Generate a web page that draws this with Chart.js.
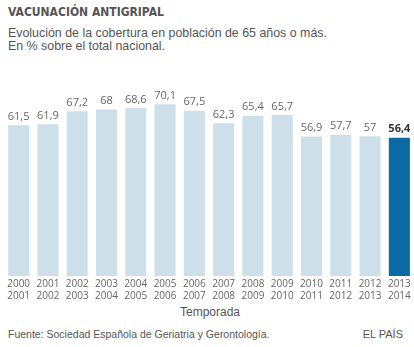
<!DOCTYPE html>
<html>
<head>
<meta charset="utf-8">
<script src="https://cdn.jsdelivr.net/npm/chart.js@4"></script>
<style>
  html, body { margin: 0; padding: 0; background: #fff; }
  body { width: 414px; height: 347px; position: relative; overflow: hidden; color: #555; }
  .title { position: absolute; left: 8px; top: 5px; font: bold 12px "DejaVu Sans Condensed", "DejaVu Sans", Verdana, sans-serif; line-height: 14px; color: #555; }
  .sub { position: absolute; left: 8px; top: 27px; font: 12.4px "Liberation Sans", Arial, sans-serif; line-height: 13px; color: #555; }
  .wrap { position: absolute; left: 0; top: 70px; width: 414px; height: 234px; }
  .axis-title { position: absolute; left: 0; width: 420px; top: 305px; text-align: center; font: 12px "Liberation Sans", Arial, sans-serif; line-height: 14px; color: #555; }
  .source { position: absolute; left: 8px; top: 328px; font: 10.5px "Liberation Sans", Arial, sans-serif; line-height: 12px; color: #555; }
  .brand { position: absolute; right: 11px; top: 328px; font: 11px "Liberation Sans", Arial, sans-serif; line-height: 12px; color: #555; }
</style>
</head>
<body>
<div class="title">VACUNACIÓN ANTIGRIPAL</div>
<div class="sub">Evolución de la cobertura en población de 65 años o más.<br>En % sobre el total nacional.</div>
<div class="wrap"><canvas id="chart"></canvas></div>
<div class="axis-title">Temporada</div>
<div class="source">Fuente: Sociedad Española de Geriatria y Gerontología.</div>
<div class="brand">EL PAÍS</div>
<script>
const seasonStart = ["2000", "2001", "2002", "2003", "2004", "2005", "2006", "2007", "2008", "2009", "2010", "2011", "2012", "2013"];
const seasonEnd = ["2001", "2002", "2003", "2004", "2005", "2006", "2007", "2008", "2009", "2010", "2011", "2012", "2013", "2014"];
const coverage = [61.5, 61.9, 67.2, 68, 68.6, 70.1, 67.5, 62.3, 65.4, 65.7, 56.9, 57.7, 57, 56.4];

const light = "#cde0ea";
const dark = "#0b69a3";
const last = coverage.length - 1;

// value above each bar, comma decimal
const valueLabels = {
  id: "valueLabels",
  afterDatasetsDraw(chart) {
    const ctx = chart.ctx;
    const meta = chart.getDatasetMeta(0);
    ctx.save();
    ctx.textAlign = "center";
    ctx.textBaseline = "bottom";
    meta.data.forEach((bar, i) => {
      const isLast = i === last;
      ctx.font = (isLast ? "bold " : "") + '11px "Open Sans", sans-serif';
      ctx.fillStyle = isLast ? "#333" : "#666";
      ctx.fillText(String(coverage[i]).replace(".", ","), bar.x, bar.y - 3);
    });
    ctx.restore();
  },
};

new Chart(document.getElementById("chart").getContext("2d"), {
  type: "bar",
  data: {
    labels: seasonStart.map((s, i) => [s, seasonEnd[i]]),
    datasets: [{
      data: coverage,
      backgroundColor: coverage.map((v, i) => (i === last ? dark : light)),
      borderWidth: 0,
      barPercentage: 0.72,
      categoryPercentage: 1,
    }],
  },
  options: {
    responsive: true,
    maintainAspectRatio: false,
    animation: false,
    layout: { padding: { left: 4, right: 0, top: 10, bottom: 0 } },
    plugins: { legend: { display: false }, tooltip: { enabled: false } },
    scales: {
      y: { display: false, min: 0, max: 80 },
      x: {
        grid: { display: false, drawTicks: false },
        border: { display: false },
        ticks: { color: "#666", font: { family: "Open Sans", size: 10, lineHeight: 1.2 }, padding: 2, maxRotation: 0, autoSkip: false },
      },
    },
  },
  plugins: [valueLabels],
});
</script>
</body>
</html>
